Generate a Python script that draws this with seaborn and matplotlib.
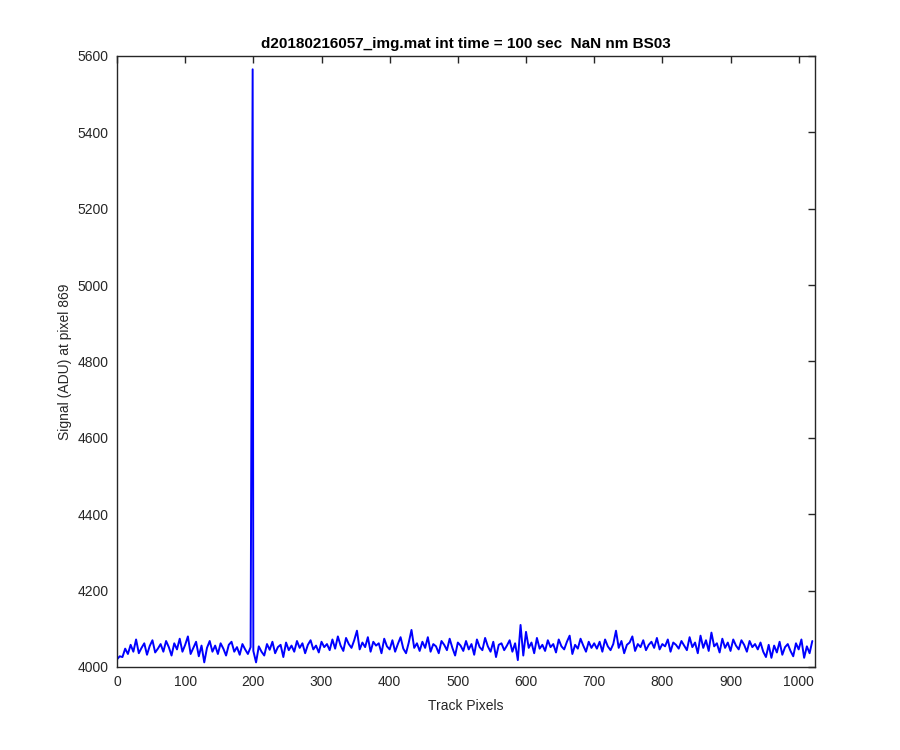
import matplotlib
matplotlib.use('Agg')

import matplotlib.pyplot as plt
import seaborn as sns
import pandas as pd

track_pixels = list(range(0, 1024, 4))
signal = [
    4020, 4028, 4026, 4048, 4034, 4058, 4040, 4072, 4036, 4050, 4062, 4032, 4055, 4070, 4038, 4048,
    4060, 4040, 4068, 4052, 4030, 4062, 4046, 4074, 4040, 4058, 4080, 4034, 4050, 4066, 4028, 4056,
    4012, 4050, 4068, 4040, 4056, 4034, 4062, 4048, 4030, 4058, 4066, 4040, 4052, 4032, 4060, 4046,
    4034, 4052, 4042, 4012, 4054, 4040, 4030, 4060, 4045, 4066, 4036, 4052, 4058, 4026, 4064, 4044,
    4056, 4040, 4068, 4050, 4062, 4036, 4058, 4070, 4046, 4056, 4038, 4066, 4052, 4060, 4044, 4072,
    4048, 4080, 4056, 4042, 4076, 4060, 4050, 4070, 4095, 4046, 4064, 4052, 4078, 4040, 4066, 4056,
    4062, 4036, 4074, 4054, 4046, 4070, 4040, 4060, 4078, 4048, 4036, 4064, 4097, 4050, 4062, 4042,
    4066, 4050, 4078, 4040, 4060, 4054, 4036, 4068, 4058, 4044, 4074, 4050, 4030, 4064, 4056, 4042,
    4068, 4046, 4060, 4032, 4072, 4052, 4044, 4076, 4054, 4040, 4066, 4026, 4058, 4062, 4044, 4056,
    4070, 4040, 4062, 4018, 4110, 4030, 4092, 4050, 4064, 4036, 4076, 4048, 4058, 4042, 4070, 4052,
    4060, 4038, 4072, 4054, 4046, 4066, 4082, 4034, 4058, 4048, 4074, 4056, 4040, 4066, 4050, 4062,
    4048, 4066, 4040, 4072, 4054, 4044, 4060, 4095, 4050, 4068, 4036, 4058, 4064, 4080, 4042, 4060,
    4052, 4070, 4044, 4058, 4066, 4050, 4076, 4046, 4060, 4054, 4072, 4040, 4064, 4058, 4048, 4068,
    4056, 4044, 4078, 4052, 4064, 4036, 4082, 4050, 4070, 4042, 4090, 4054, 4062, 4038, 4074, 4050,
    4064, 4042, 4072, 4056, 4046, 4070, 4058, 4040, 4068, 4052, 4060, 4046, 4064, 4040, 4026, 4058,
    4024, 4056, 4038, 4066, 4032, 4052, 4060, 4042, 4028, 4062, 4046, 4072, 4024, 4054, 4036, 4068,
]
# cosmic-ray hit
spike_pixel = 199
spike_signal = 5565

df = pd.DataFrame({'pixel': track_pixels + [spike_pixel],
                   'signal': signal + [spike_signal]}).sort_values('pixel')

sns.set_style('white')
plt.rcParams['font.family'] = ['Liberation Sans', 'DejaVu Sans']

fig = plt.figure(figsize=(9, 7.5), dpi=100)
ax = fig.add_axes([0.13, 0.1107, 0.7756, 0.8147])

sns.lineplot(data=df, x='pixel', y='signal', color='blue', linewidth=1.4,
             sort=True, estimator=None, ax=ax)

ax.set_xlim(0, 1024)
ax.set_ylim(4000, 5600)
ax.set_xticks(range(0, 1001, 100))
ax.set_yticks(range(4000, 5601, 200))

edge = '#262626'
for s in ax.spines.values():
    s.set_visible(True)
    s.set_color(edge)
    s.set_linewidth(1.0)
ax.tick_params(direction='in', length=5, width=1.0, colors=edge,
               top=True, right=True, labelsize=10, pad=6)

ax.set_xlabel('Track Pixels', fontsize=10, color=edge, labelpad=7)
ax.set_ylabel('Signal (ADU) at pixel 869', fontsize=10, color=edge, labelpad=4)
ax.set_title('d20180216057_img.mat int time = 100 sec  NaN nm BS03',
             fontsize=11, fontweight='bold', color='black', pad=6)

fig.savefig('out.png', dpi=100)
plt.close(fig)
